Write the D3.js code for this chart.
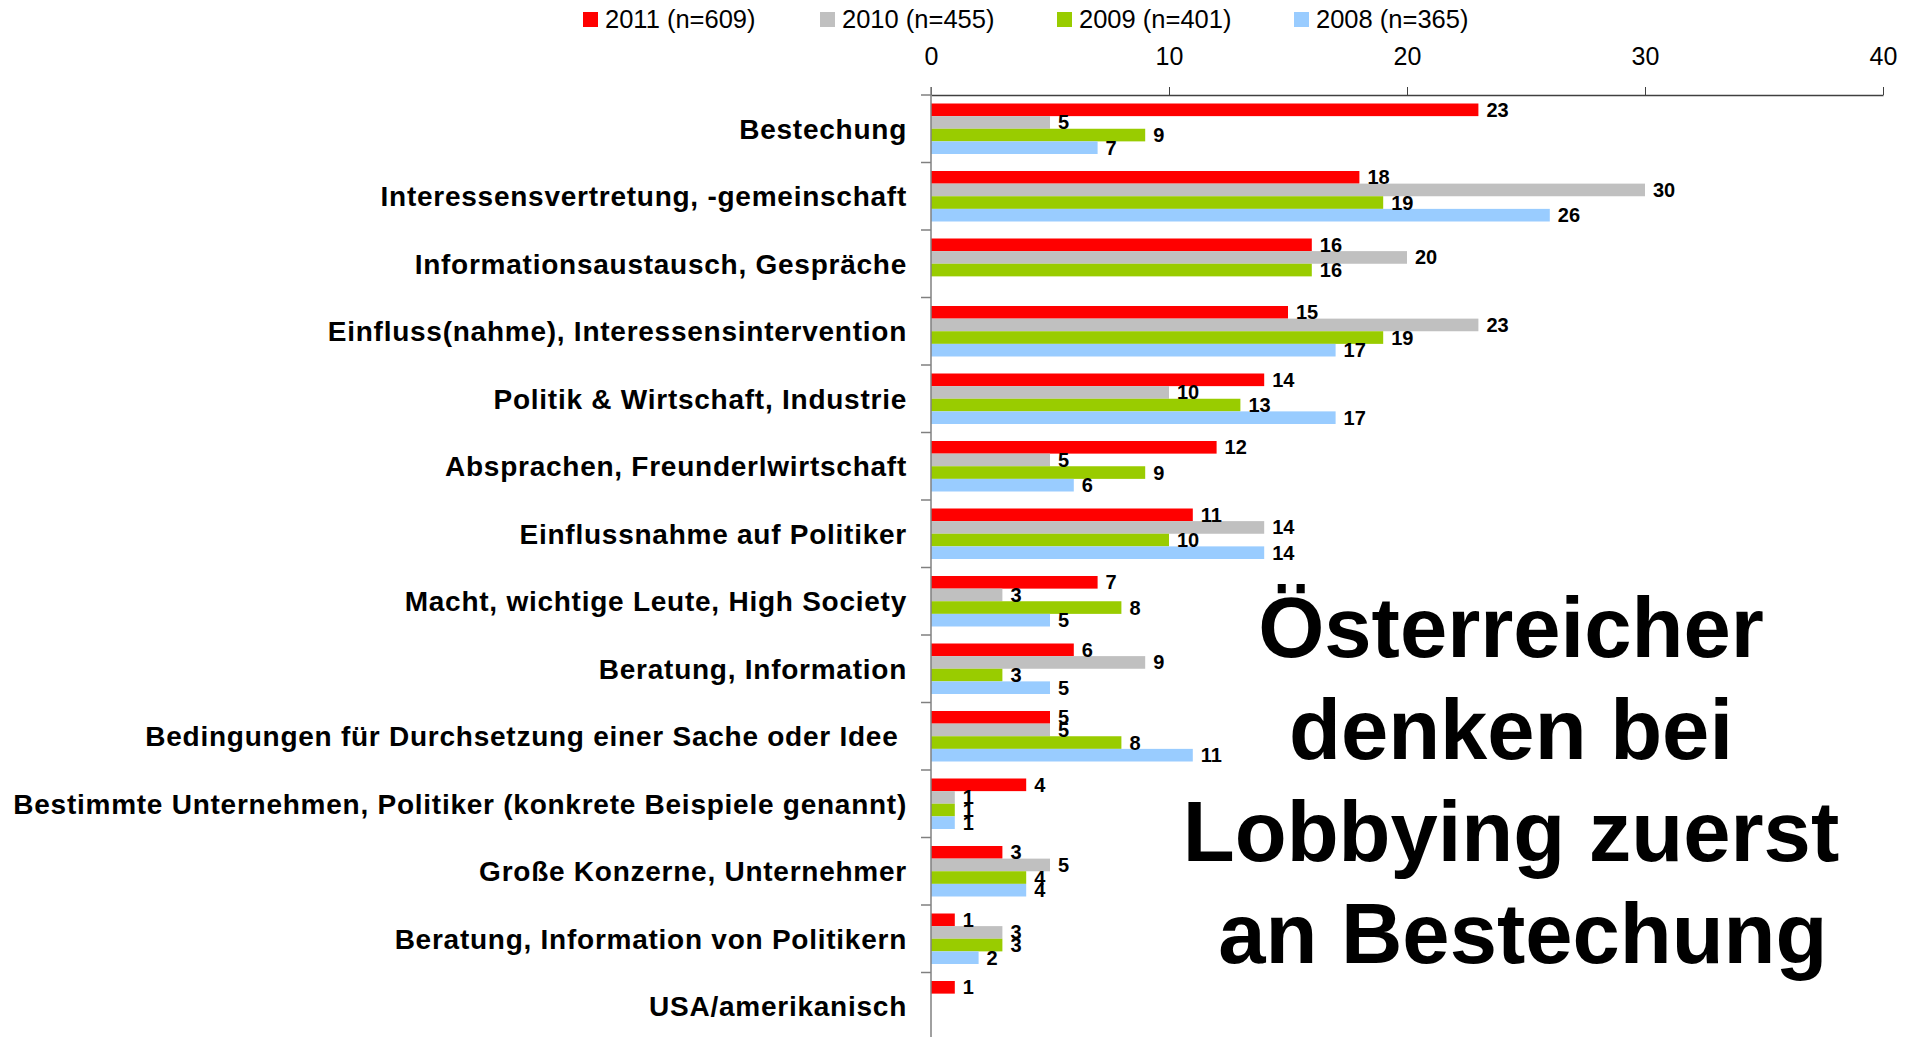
<!DOCTYPE html>
<html>
<head>
<meta charset="utf-8">
<script src="https://cdn.jsdelivr.net/npm/d3@7"></script>
<style>
  body { margin: 0; background: #fff; }
  text { font-family: "Liberation Sans", Arial, sans-serif; }
</style>
</head>
<body>
<div id="chart"></div>
<script>
// chart data
var categories = [
  "Bestechung",
  "Interessensvertretung, -gemeinschaft",
  "Informationsaustausch, Gespräche",
  "Einfluss(nahme), Interessensintervention",
  "Politik & Wirtschaft, Industrie",
  "Absprachen, Freunderlwirtschaft",
  "Einflussnahme auf Politiker",
  "Macht, wichtige Leute, High Society",
  "Beratung, Information",
  "Bedingungen für Durchsetzung einer Sache oder Idee ",
  "Bestimmte Unternehmen, Politiker (konkrete Beispiele genannt)",
  "Große Konzerne, Unternehmer",
  "Beratung, Information von Politikern",
  "USA/amerikanisch"
];
var seriesNames = ["2011 (n=609)", "2010 (n=455)", "2009 (n=401)", "2008 (n=365)"];
var seriesColors = ["#ff0000", "#c0c0c0", "#99cc00", "#99ccff"];

var values2011 = [23, 18, 16, 15, 14, 12, 11, 7, 6, 5, 4, 3, 1, 1];
var values2010 = [5, 30, 20, 23, 10, 5, 14, 3, 9, 5, 1, 5, 3, null];
var values2009 = [9, 19, 16, 19, 13, 9, 10, 8, 3, 8, 1, 4, 3, null];
var values2008 = [7, 26, null, 17, 17, 6, 14, 5, 5, 11, 1, 4, 2, null];

var xTicks = [0, 10, 20, 30, 40];
var titleLines = ["Österreicher", "denken bei", "Lobbying zuerst", " an Bestechung"];

var seriesValues = [values2011, values2010, values2009, values2008];

var svgWidth = 1918;
var svgHeight = 1037;

var margin = {top: 95, left: 931, right: 35};
var plotBottom = 1040;

var svg = d3.select("#chart")
  .append("svg")
  .attr("width", svgWidth)
  .attr("height", svgHeight);

// scales
var xScale = d3.scaleLinear()
  .domain([0, 40])
  .range([margin.left, svgWidth - margin.right]);

var yScale = d3.scaleBand()
  .domain(categories)
  .range([margin.top, plotBottom])
  .padding(0);

var barPad = 8.5;
var ySub = d3.scaleBand()
  .domain(seriesNames)
  .range([barPad, yScale.step() - barPad])
  .padding(0);

// bars
var rows = [];
categories.forEach(function(cat, i) {
  seriesNames.forEach(function(s, j) {
    var v = seriesValues[j][i];
    if (v !== null) rows.push({cat: cat, series: s, idx: j, value: v});
  });
});

svg.append("g").selectAll("rect")
  .data(rows)
  .enter()
  .append("rect")
  .attr("x", xScale(0))
  .attr("y", d => yScale(d.cat) + ySub(d.series))
  .attr("width", d => xScale(d.value) - xScale(0))
  .attr("height", ySub.bandwidth())
  .attr("fill", d => seriesColors[d.idx]);

// value labels
svg.append("g").selectAll("text")
  .data(rows)
  .enter()
  .append("text")
  .attr("x", d => xScale(d.value) + 8)
  .attr("y", d => yScale(d.cat) + ySub(d.series) + ySub.bandwidth() / 2)
  .attr("dy", "0.35em")
  .attr("font-size", "20px")
  .attr("font-weight", "bold")
  .attr("fill", "#000")
  .text(d => d.value);

// top axis
var topAxis = d3.axisTop(xScale)
  .tickValues(xTicks)
  .tickSize(8)
  .tickSizeOuter(0)
  .tickPadding(22);

var axisG = svg.append("g")
  .attr("transform", `translate(0, ${margin.top})`)
  .call(topAxis);
axisG.select(".domain").attr("stroke", "#404040").attr("stroke-width", 1.5);
axisG.selectAll(".tick line").attr("stroke", "#404040");
axisG.selectAll(".tick text")
  .attr("font-size", "25px")
  .attr("font-family", "Liberation Sans, Arial, sans-serif")
  .attr("fill", "#000");

// left category axis with ticks between categories
svg.append("line")
  .attr("x1", xScale(0)).attr("x2", xScale(0))
  .attr("y1", margin.top - 8).attr("y2", svgHeight)
  .attr("stroke", "#808080")
  .attr("stroke-width", 1.5);

var boundaries = categories.map(c => yScale(c));
svg.append("g").selectAll("line")
  .data(boundaries)
  .enter()
  .append("line")
  .attr("x1", xScale(0) - 10).attr("x2", xScale(0))
  .attr("y1", d => d).attr("y2", d => d)
  .attr("stroke", "#808080")
  .attr("stroke-width", 1.5);

// category labels
svg.append("g").selectAll("text")
  .data(categories)
  .enter()
  .append("text")
  .attr("x", 907)
  .attr("y", d => yScale(d) + yScale.bandwidth() / 2)
  .attr("dy", "0.35em")
  .attr("text-anchor", "end")
  .attr("font-size", "28px")
  .attr("font-weight", "bold")
  .attr("letter-spacing", "0.75px")
  .style("white-space", "pre")
  .text(d => d);

// legend
var legend = svg.append("g").selectAll("g")
  .data(seriesNames)
  .enter()
  .append("g")
  .attr("transform", (d, i) => `translate(${583 + i * 237}, 12)`);

legend.append("rect")
  .attr("width", 15)
  .attr("height", 15)
  .attr("fill", (d, i) => seriesColors[i]);

legend.append("text")
  .attr("x", 22)
  .attr("y", 7.5)
  .attr("dy", "0.35em")
  .attr("font-size", "25.5px")
  .text(d => d);

// big headline
svg.append("g").selectAll("text")
  .data(titleLines)
  .enter()
  .append("text")
  .attr("x", 1511)
  .attr("y", (d, i) => 657 + i * 102)
  .attr("text-anchor", "middle")
  .attr("font-size", "85px")
  .attr("font-weight", "bold")
  .style("white-space", "pre")
  .text(d => d);
</script>
</body>
</html>
